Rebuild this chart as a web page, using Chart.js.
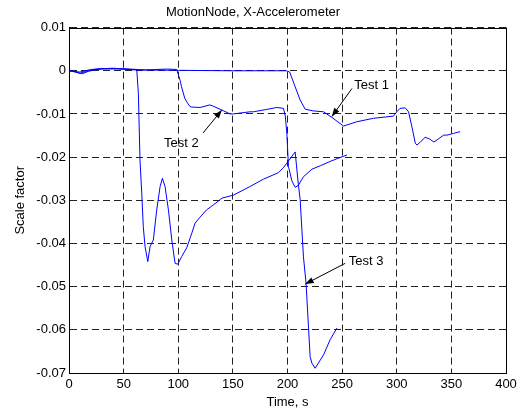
<!DOCTYPE html>
<html lang="en">
<head>
    <meta charset="UTF-8">
    <title>MotionNode, X-Accelerometer</title>
    <script src="https://cdn.jsdelivr.net/npm/chart.js"></script>
    <style>
        body { margin: 0; background: #fff; }
    </style>
</head>
<body>
    <canvas id="chart" width="523" height="412"></canvas>
</body>

<script>

// Test 1: flat until ~200 s, then step down
const test1Time  = [0, 10, 20, 40, 60, 100, 150, 199, 202, 207, 211.6, 216.2, 223.8, 233, 240.6, 251.3, 263.5, 278.8, 297, 300, 303, 307.8, 310.8, 313.9, 317, 318.5, 322, 326, 330, 334, 338, 343, 346, 352, 358];
const test1Value = [0, -0.0003, 0.0003, 0.0006, 0.0002, 0.0001, 0, 0, -0.0003, -0.0037, -0.0068, -0.0089, -0.0093, -0.0095, -0.0108, -0.0128, -0.0118, -0.011, -0.0105, -0.0095, -0.0087, -0.0086, -0.0095, -0.013, -0.0168, -0.0172, -0.0164, -0.0154, -0.0158, -0.0165, -0.0158, -0.0149, -0.0149, -0.0145, -0.0141];

// Test 2: step at ~100 s, second step at ~197 s
const test2Time  = [0, 8, 12, 18, 30, 50, 70, 90, 98.6, 101.7, 103, 106, 107.8, 110.8, 112.4, 120, 129, 132, 140, 147.5, 150.5, 165.8, 168.8, 180, 190.2, 196.3, 198, 199.4, 200.9, 204, 207, 210, 214.4, 222.3, 230, 239, 246, 254.4];
const test2Value = [0, -0.0004, -0.0007, -0.0001, 0.0005, 0.0004, 0.0002, 0.0004, 0.0003, -0.0022, -0.0037, -0.0064, -0.0072, -0.0083, -0.0084, -0.0085, -0.0079, -0.0082, -0.0091, -0.01, -0.01, -0.0095, -0.0095, -0.009, -0.0085, -0.0087, -0.0105, -0.0145, -0.0222, -0.0255, -0.027, -0.0265, -0.0246, -0.0228, -0.022, -0.021, -0.0203, -0.0195];

// Test 3: drop at ~62 s, deep drop after ~207 s
const test3Time  = [0, 5, 10, 15, 25, 45, 62, 63.5, 65, 66.6, 68, 69.6, 72.1, 74.2, 77.2, 80.3, 83.4, 85.5, 87.9, 91, 94.1, 97.1, 99.6, 103.2, 107.8, 112.4, 115.4, 120, 126, 132, 140, 150.5, 165.8, 178, 191.7, 196, 200, 207, 209.8, 211.6, 214.6, 217, 219.2, 220.7, 222.3, 225.3, 233, 239, 245.2];
const test3Value = [0, -0.0002, -0.0006, -0.0002, 0.0004, 0.0005, 0.0003, -0.0052, -0.0207, -0.0284, -0.0361, -0.0407, -0.0442, -0.0407, -0.0392, -0.0322, -0.0268, -0.0249, -0.0268, -0.0322, -0.0392, -0.0446, -0.0448, -0.043, -0.041, -0.0376, -0.0353, -0.0339, -0.0322, -0.0311, -0.0295, -0.0288, -0.0268, -0.0251, -0.0236, -0.0225, -0.0212, -0.0188, -0.026, -0.0299, -0.0431, -0.0492, -0.0593, -0.0662, -0.0677, -0.0689, -0.0658, -0.0623, -0.0596];

// labels with arrows (data coordinates)
const noteText  = ['Test 1', 'Test 2', 'Test 3'];
const noteX     = [277, 102.8, 271.9];
const noteY     = [-0.0035, -0.0168, -0.0442];
const arrowFromX = [259, 122.7, 252.8];
const arrowFromY = [-0.0041, -0.0144, -0.0446];
const arrowToX   = [240.6, 139.9, 216.2];
const arrowToY   = [-0.0106, -0.0091, -0.0494];

const FONT = "'Liberation Sans', Arial, sans-serif";

const toPoints = (xs, ys) => xs.map((x, i) => ({ x: x, y: ys[i] }));

// box around the plot + the annotations
const boxAndNotes = {
    id: 'boxAndNotes',
    afterDatasetsDraw(chart) {
        const ctx = chart.ctx;
        const a = chart.chartArea;
        const sx = chart.scales.x, sy = chart.scales.y;
        ctx.save();
        ctx.strokeStyle = '#000';
        ctx.lineWidth = 1;
        ctx.strokeRect(Math.round(a.left) + 0.5, Math.round(a.top) + 0.5,
                       Math.round(a.right - a.left), Math.round(a.bottom - a.top));

        ctx.fillStyle = '#000';
        ctx.font = '13px ' + FONT;
        ctx.textAlign = 'center';
        ctx.textBaseline = 'middle';
        for (let i = 0; i < noteText.length; i++) {
            ctx.fillText(noteText[i], sx.getPixelForValue(noteX[i]), sy.getPixelForValue(noteY[i]));

            const x0 = sx.getPixelForValue(arrowFromX[i]), y0 = sy.getPixelForValue(arrowFromY[i]);
            const x1 = sx.getPixelForValue(arrowToX[i]),   y1 = sy.getPixelForValue(arrowToY[i]);
            const ang = Math.atan2(y1 - y0, x1 - x0);
            ctx.beginPath();
            ctx.moveTo(x0, y0);
            ctx.lineTo(x1, y1);
            ctx.stroke();
            ctx.beginPath();
            ctx.moveTo(x1, y1);
            ctx.lineTo(x1 - 9 * Math.cos(ang - 0.35), y1 - 9 * Math.sin(ang - 0.35));
            ctx.lineTo(x1 - 9 * Math.cos(ang + 0.35), y1 - 9 * Math.sin(ang + 0.35));
            ctx.closePath();
            ctx.fill();
        }
        ctx.restore();
    }
};

const lineStyle = { borderColor: '#0000ff', borderWidth: 1, pointRadius: 0, tension: 0, fill: false };

new Chart(document.getElementById('chart'), {
    type: 'line',
    data: {
        datasets: [
            Object.assign({ label: 'Test 1', data: toPoints(test1Time, test1Value) }, lineStyle),
            Object.assign({ label: 'Test 2', data: toPoints(test2Time, test2Value) }, lineStyle),
            Object.assign({ label: 'Test 3', data: toPoints(test3Time, test3Value) }, lineStyle)
        ]
    },
    options: {
        responsive: false,
        animation: false,
        layout: { padding: { left: 0, right: 17, top: 0, bottom: 0 } },
        plugins: {
            legend: { display: false },
            tooltip: { enabled: false },
            title: {
                display: true,
                text: 'MotionNode, X-Accelerometer',
                color: '#000',
                font: { family: FONT, size: 13, weight: 'normal' },
                padding: { top: 5, bottom: 7 }
            }
        },
        scales: {
            x: {
                type: 'linear',
                min: 0,
                max: 400,
                ticks: { stepSize: 50, color: '#000', font: { family: FONT, size: 13 }, padding: 4, maxRotation: 0 },
                grid: { color: '#222', lineWidth: 1, drawTicks: false },
                border: { display: true, color: '#000', dash: [7, 4] },
                title: { display: true, text: 'Time, s', color: '#000', font: { family: FONT, size: 13 }, padding: { top: 0, bottom: 2 } },
                afterFit: (scale) => { scale.height = 39; }
            },
            y: {
                min: -0.07,
                max: 0.01,
                ticks: {
                    stepSize: 0.01,
                    color: '#000',
                    font: { family: FONT, size: 13 },
                    padding: 3,
                    callback: (v) => String(Math.round(v * 100) / 100)
                },
                grid: { color: '#222', lineWidth: 1, drawTicks: false },
                border: { display: true, color: '#000', dash: [7, 4] },
                title: { display: true, text: 'Scale factor', color: '#000', font: { family: FONT, size: 13 }, padding: { top: 13, bottom: 0 } },
                afterFit: (scale) => { scale.width = 69; }
            }
        }
    },
    plugins: [boxAndNotes]
});

</script>
</html>
